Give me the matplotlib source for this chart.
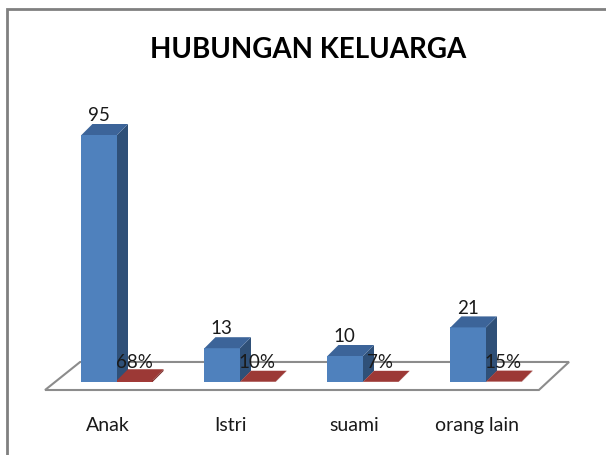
import matplotlib.pyplot as plt
import numpy as np
from matplotlib.patches import Polygon, Rectangle

categories = ['Anak', 'Istri', 'suami', 'orang lain']
jumlah = np.array([95, 13, 10, 21])
persen = np.array([0.68, 0.10, 0.07, 0.15])

plt.rcParams['font.family'] = ['Lato', 'DejaVu Sans']

W, H = 606, 456
fig = plt.figure(figsize=(W / 100, H / 100), dpi=100)
ax = fig.add_axes([0, 0, 1, 1])
# one category step = 123 px, one unit of value = 2.6 px
ax.set_xlim(-117 / 123, (W - 117) / 123)
ax.set_ylim(-(H - 383) / 2.6, 383 / 2.6)
ax.axis('off')

bw = 0.289          # bar width
dx, dy = 0.0894, 4.23  # depth offset

# floor
floor = Polygon([(-0.585, -3.08), (3.43, -3.08), (3.675, 7.7), (-0.30, 7.7)],
                closed=True, facecolor='white', edgecolor='#8c8c8c', lw=1.5, zorder=1)
ax.add_patch(floor)


def bar3d(x0, h, front, side, top, z):
    ax.bar(x0, h, width=bw, align='edge', color=front, lw=0, zorder=z)
    ax.add_patch(Polygon([(x0 + bw, 0), (x0 + bw + dx, dy), (x0 + bw + dx, h + dy), (x0 + bw, h)],
                         closed=True, facecolor=side, lw=0, zorder=z))
    ax.add_patch(Polygon([(x0, h), (x0 + bw, h), (x0 + bw + dx, h + dy), (x0 + dx, h + dy)],
                         closed=True, facecolor=top, lw=0, zorder=z))


x = np.arange(len(categories))
for i in x:
    bar3d(i - bw, jumlah[i], '#4f81bd', '#2f5078', '#3c6499', 2 + 2 * i)
    bar3d(i, persen[i], '#a23b38', '#7a2a28', '#9c3936', 3 + 2 * i)
    ax.text(i - 0.15, jumlah[i] + 7.8, str(jumlah[i]), ha='center', va='center',
            fontsize=13.5, color='#1a1a1a', zorder=20)
    ax.text(i + 0.14, 7.9, f'{persen[i]:.0%}', ha='center', va='center',
            fontsize=13.5, color='#1a1a1a', zorder=20)
    ax.text(i - 0.075, -16.2, categories[i], ha='center', va='center',
            fontsize=14, color='#1a1a1a', zorder=20)

fig.text(308 / W, 1 - 50 / H, 'HUBUNGAN KELUARGA', ha='center', va='center',
         fontsize=20, fontweight='bold', color='black')

fig.patches.append(Rectangle((7 / W, -0.05), 1.2, 1 - 10 / H + 0.05, transform=fig.transFigure,
                             fill=False, edgecolor='#808080', lw=2))

fig.savefig('out.png', dpi=100)
